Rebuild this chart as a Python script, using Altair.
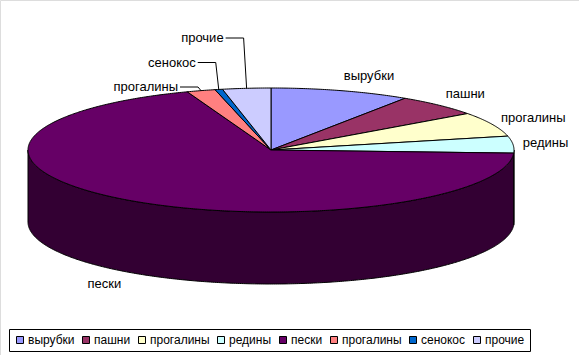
import math
import altair as alt
import pandas as pd

# ---- data (percent shares, clockwise from 12 o'clock)
names = ["вырубки", "пашни", "прогалины", "редины", "пески", "прогалины", "сенокос", "прочие"]
values = [9.3, 5.7, 6.4, 4.4, 68.6, 1.9, 0.5, 3.2]
colors = ["#9999FF", "#993366", "#FFFFCC", "#CCFFFF", "#660066", "#FF8080", "#0066CC", "#CCCCFF"]

# ---- layout constants
W, H = 579, 355
CX, CY, RX, RY, DEPTH = 271, 150, 243, 62, 72
FONT = "Liberation Sans"
FS = 13


def darker(hexcol, f=0.5):
    r, g, b = (int(hexcol[i:i + 2], 16) for i in (1, 3, 5))
    return "#%02x%02x%02x" % (int(r * f), int(g * f), int(b * f))


def pt(deg, drop=0.0):
    r = math.radians(deg)
    return CX + RX * math.sin(r), CY - RY * math.cos(r) + drop


def arc(a, b, drop=0.0):
    n = max(2, int(abs(b - a) / 0.5) + 1)
    return [pt(a + (b - a) * i / (n - 1), drop) for i in range(n)]


keys = [f"{i}:{n}" for i, n in enumerate(names)]
total = sum(values)
bounds = []
acc = 0.0
for v in values:
    a = acc / total * 360
    acc += v
    b = acc / total * 360
    bounds.append((a, b))

top_rows, side_rows = [], []
for i, (a, b) in enumerate(bounds):
    pts = [(CX, CY)] + arc(a, b) + [(CX, CY)]
    for j, (x, y) in enumerate(pts):
        top_rows.append({"key": keys[i], "x": x, "y": y, "o": j})
    a2, b2 = max(a, 90), min(b, 270)
    if a2 < b2:
        pts = arc(a2, b2) + arc(b2, a2, DEPTH)
        pts.append(pts[0])
        for j, (x, y) in enumerate(pts):
            side_rows.append({"key": keys[i], "x": x, "y": y, "o": j,
                              "c": darker(colors[i])})

# labels
label_rows, leader_rows = [], []
small = [i for i, v in enumerate(values) if v < 4 and bounds[i][0] > 270]
for i, (a, b) in enumerate(bounds):
    m = (a + b) / 2
    s, c = math.sin(math.radians(m)), math.cos(math.radians(m))
    if i in small:
        k = small.index(i)
        ax, ay = pt(m)
        ly = CY - RY - 1 - 24.5 * k
        bx = ax - 3
        cx_ = bx - 18
        for j, (x, y) in enumerate([(ax, ay), (bx, ly), (cx_, ly)]):
            leader_rows.append({"key": keys[i], "x": x, "y": y, "o": j})
        label_rows.append({"t": names[i], "x": cx_ - 2, "y": ly, "al": "right"})
    else:
        x = CX + RX * 1.04 * s
        y = CY - RY * 1.25 * c + (DEPTH if c < 0 else 0)
        label_rows.append({"t": names[i], "x": x, "y": y,
                           "al": "left" if s > 0 else "right"})

xs = alt.Scale(domain=[0, W], nice=False, zero=False)
ys = alt.Scale(domain=[0, H], nice=False, zero=False, reverse=True)
X = alt.X("x:Q", scale=xs, axis=None)
Y = alt.Y("y:Q", scale=ys, axis=None)

sides = alt.Chart(pd.DataFrame(side_rows)).mark_line(
    stroke="black", strokeWidth=1, strokeJoin="round"
).encode(x=X, y=Y, order="o:Q", detail="key:N",
         fill=alt.Fill("c:N", scale=None))

tops = alt.Chart(pd.DataFrame(top_rows)).mark_line(
    stroke="black", strokeWidth=1, strokeJoin="round"
).encode(
    x=X, y=Y, order="o:Q", detail="key:N",
    fill=alt.Fill("key:N", scale=alt.Scale(domain=keys, range=colors),
                  legend=alt.Legend(
                      title=None, orient="none", legendX=9, legendY=329,
                      direction="horizontal", columns=8,
                      labelExpr="split(datum.label, ':')[1]",
                      symbolType="square", symbolSize=49,
                      symbolStrokeColor="black", symbolStrokeWidth=1,
                      labelFont=FONT, labelFontSize=12, labelColor="black",
                      labelOffset=2, columnPadding=5,
                      strokeColor="black", padding=5, cornerRadius=0,
                      fillColor="white")),
)

leaders = alt.Chart(pd.DataFrame(leader_rows)).mark_line(
    color="black", strokeWidth=1
).encode(x=X, y=Y, order="o:Q", detail="key:N")

ldf = pd.DataFrame(label_rows)
labels_l = alt.Chart(ldf[ldf.al == "left"]).mark_text(
    font=FONT, fontSize=FS, color="black", baseline="middle", align="left"
).encode(x=X, y=Y, text="t:N")
labels_r = alt.Chart(ldf[ldf.al == "right"]).mark_text(
    font=FONT, fontSize=FS, color="black", baseline="middle", align="right"
).encode(x=X, y=Y, text="t:N")

chart = alt.layer(sides, tops, leaders, labels_l, labels_r).properties(
    width=W, height=H, padding=0, autosize=alt.AutoSizeParams(type="none")
).configure_view(stroke=None).configure(background="white")

chart.save("out.html", embed_options={"renderer": "svg", "actions": False})
